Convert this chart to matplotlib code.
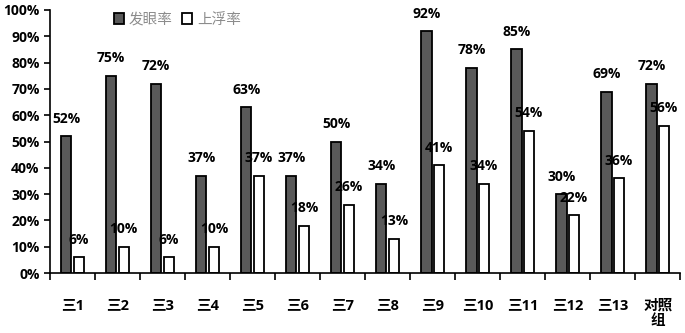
import numpy as np
import matplotlib
matplotlib.use("Agg")
import matplotlib.pyplot as plt

plt.rcParams['font.family'] = ['Open Sans', 'Noto Sans CJK SC', 'DejaVu Sans']

categories = ["三1", "三2", "三3", "三4", "三5", "三6", "三7", "三8", "三9",
              "三10", "三11", "三12", "三13", "对照\n组"]
eye_rate = [52, 75, 72, 37, 63, 37, 50, 34, 92, 78, 85, 30, 69, 72]   # 发眼率
float_rate = [6, 10, 6, 10, 37, 18, 26, 13, 41, 34, 54, 22, 36, 56]  # 上浮率

fig = plt.figure(figsize=(6.85, 3.33), dpi=100)
ax = fig.add_axes([0.073, 0.18, 0.92, 0.79])

x = np.arange(len(categories))
w = 0.23
ax.bar(x - 0.14, eye_rate, w, color="#595959", edgecolor="black", linewidth=1.3, label="发眼率")
ax.bar(x + 0.14, float_rate, w, color="white", edgecolor="black", linewidth=1.3, label="上浮率")

for xi, v in zip(x, eye_rate):
    ax.text(xi - 0.14, v + 4, f"{v}%", ha="center", va="bottom", fontsize=10, fontweight="bold")
for xi, v in zip(x, float_rate):
    ax.text(xi + 0.14, v + 4, f"{v}%", ha="center", va="bottom", fontsize=10, fontweight="bold")

ax.set_xlim(-0.5, len(categories) - 0.5)
ax.set_ylim(0, 100)
ax.set_yticks(range(0, 101, 10))
ax.set_yticklabels([f"{t}%" for t in range(0, 101, 10)], fontsize=10, fontweight="bold")

# ticks on category boundaries, labels in the middle
ax.set_xticks(np.arange(len(categories) + 1) - 0.5)
ax.set_xticklabels([])
ax.set_xticks(x, minor=True)
ax.set_xticklabels(categories, minor=True, fontsize=10.5, fontweight="bold", va="top")
ax.tick_params(axis="x", which="minor", length=0, pad=18)
ax.tick_params(axis="x", which="major", length=5, width=1.2, direction="out")
ax.tick_params(axis="y", length=4, width=1.2)

for s in ["top", "right"]:
    ax.spines[s].set_visible(False)
for s in ["left", "bottom"]:
    ax.spines[s].set_linewidth(1.2)

leg = ax.legend(loc="upper left", bbox_to_anchor=(0.08, 1.04), ncol=2, frameon=False,
                fontsize=10.5, handlelength=0.7, handleheight=0.7, handletextpad=0.3,
                columnspacing=0.7)
for t in leg.get_texts():
    t.set_color("#8c8c8c")

fig.savefig("out.png", dpi=100)
